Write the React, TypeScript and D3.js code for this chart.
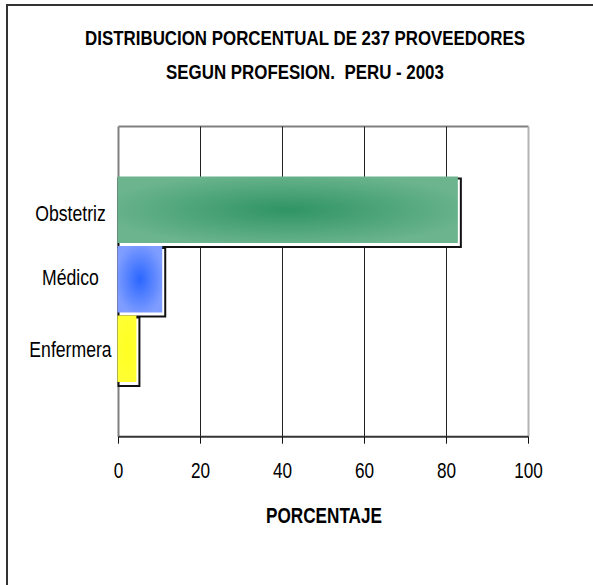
import React from "react";
import * as d3 from "d3";

const categories = ["Obstetriz", "Médico", "Enfermera"];
const values = [83.5, 11.4, 5.1];
const xTicks = [0, 20, 40, 60, 80, 100];
const titleLines = ["DISTRIBUCION PORCENTUAL DE 237 PROVEEDORES", "SEGUN PROFESION.  PERU - 2003"];
const xTitle = "PORCENTAJE";
const gradients = [
  { id: "gGreen", center: "#2f9463", edge: "#6bb48e" },
  { id: "gBlue", center: "#2a66ff", edge: "#7f9dff" },
  { id: "gYellow", center: "#ffff22", edge: "#ffff33" },
];

const FONT = "'Liberation Sans', Arial, sans-serif";

function NText({ x, y, sx, size, bold, children }: { x: number; y: number; sx: number; size: number; bold?: boolean; children: React.ReactNode }) {
  return (
    <text
      transform={`translate(${x},${y}) scale(${sx},1)`}
      textAnchor="middle"
      fontSize={size}
      fontWeight={bold ? "bold" : "normal"}
      fill="#000"
      style={{ whiteSpace: "pre" }}
    >
      {children}
    </text>
  );
}

export default function App() {
  const W = 593, H = 585;
  const left = 118.5, right = 528.5, top = 126.5, bottom = 436.7;
  const x = d3.scaleLinear().domain([0, 100]).range([left, right]);
  const y = d3.scaleBand<string>().domain(categories).range([176.5, 385]).padding(0);
  const bw = y.bandwidth();
  const labelDy = [9.5, 4, 7];

  return (
    <svg width={W} height={H} style={{ position: "absolute", left: 0, top: 0, background: "#fff" }} fontFamily={FONT}>
      <defs>
        {gradients.map((g) => (
          <radialGradient key={g.id} id={g.id} cx="50%" cy="50%" r="55%">
            <stop offset="0%" stopColor={g.center} />
            <stop offset="100%" stopColor={g.edge} />
          </radialGradient>
        ))}
      </defs>
      <rect x={0} y={0} width={W} height={H} fill="#fff" />
      <path d={`M7,${H} L7,5 L${W},5`} fill="none" stroke="#333" strokeWidth={2} />

      <NText x={305} y={45} sx={0.805} size={21} bold>{titleLines[0]}</NText>
      <NText x={305} y={79} sx={0.805} size={21} bold>{titleLines[1]}</NText>

      <line x1={left} x2={right} y1={top} y2={top} stroke="#808080" strokeWidth={2} />
      <line x1={right} x2={right} y1={top} y2={bottom} stroke="#b4b4b4" strokeWidth={2} />
      <line x1={left} x2={left} y1={top} y2={bottom} stroke="#808080" strokeWidth={2} />

      {xTicks.slice(1, -1).map((t) => (
        <line key={t} x1={x(t)} x2={x(t)} y1={top} y2={bottom} stroke="#222" strokeWidth={1} />
      ))}

      {categories.map((c, i) => {
        const y0 = y(c)!;
        const w = x(values[i]) - x(0);
        return (
          <g key={c}>
            <rect x={x(0)} y={y0 + 2} width={w} height={bw - 1} fill="#fff" stroke="#111" strokeWidth={2} />
            <rect x={x(0) - 1} y={y0} width={w - 2} height={bw - 3} fill={`url(#${gradients[i].id})`} />
          </g>
        );
      })}

      {categories.map((c, i) => (
        <NText key={c} x={70.5} y={y(c)! + bw / 2 + labelDy[i]} sx={0.82} size={21.5}>{c}</NText>
      ))}

      <line x1={left} x2={right} y1={bottom} y2={bottom} stroke="#333" strokeWidth={2} />
      {xTicks.map((t) => (
        <g key={t}>
          <line x1={x(t)} x2={x(t)} y1={bottom} y2={bottom + 7} stroke="#111" strokeWidth={1} />
          <NText x={x(t)} y={477.5} sx={0.78} size={22}>{t}</NText>
        </g>
      ))}
      <NText x={324} y={523} sx={0.78} size={22} bold>{xTitle}</NText>
    </svg>
  );
}
